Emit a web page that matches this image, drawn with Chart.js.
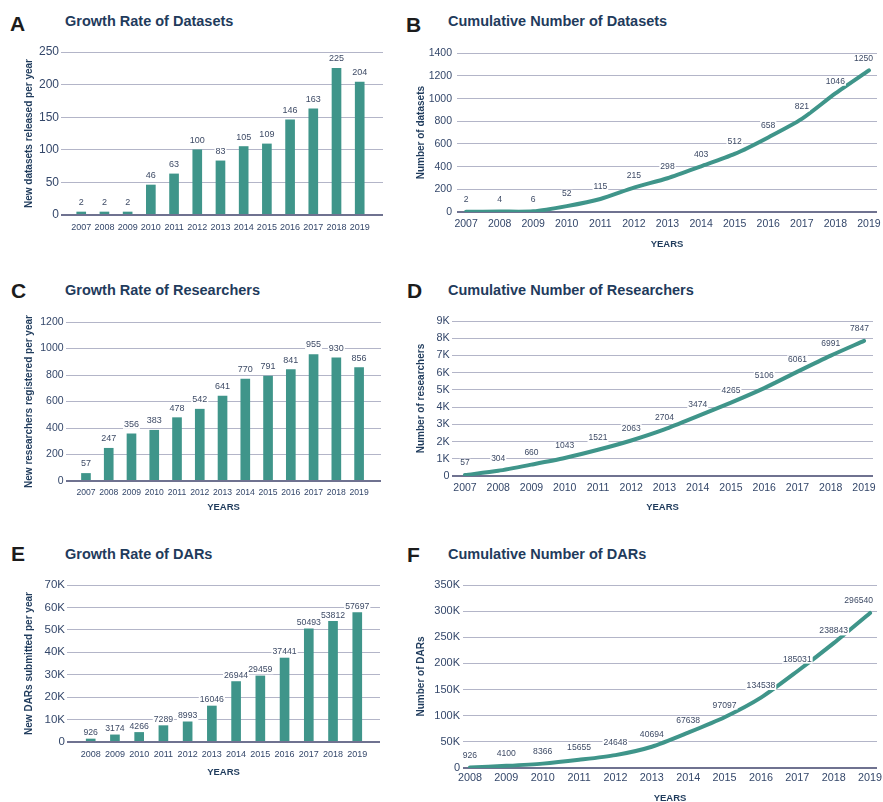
<!DOCTYPE html>
<html>
<head>
<meta charset="utf-8">
<script src="https://cdn.jsdelivr.net/npm/chart.js@4.4.1/dist/chart.umd.min.js"></script>
<style>
  html, body { margin: 0; padding: 0; background: #fff; width: 883px; height: 802px; overflow: hidden; position: relative;
               font-family: "Liberation Sans", Arial, sans-serif; }
  .letter { position: absolute; font-weight: bold; font-size: 21px; line-height: 21px; color: #1c1c1c; }
  .title { position: absolute; font-weight: bold; font-size: 14.5px; line-height: 14.5px; color: #1f3b5c; white-space: nowrap; }
  canvas { position: absolute; }
</style>
</head>
<body>
<div class="letter" style="left:10px;top:13px">A</div>
<div class="title" style="left:65px;top:14px">Growth Rate of Datasets</div>
<div class="letter" style="left:406px;top:14px">B</div>
<div class="title" style="left:448px;top:14px">Cumulative Number of Datasets</div>
<div class="letter" style="left:11px;top:280px">C</div>
<div class="title" style="left:65px;top:283px">Growth Rate of Researchers</div>
<div class="letter" style="left:407px;top:280px">D</div>
<div class="title" style="left:448px;top:283px">Cumulative Number of Researchers</div>
<div class="letter" style="left:11px;top:543px">E</div>
<div class="title" style="left:65px;top:547px">Growth Rate of DARs</div>
<div class="letter" style="left:407px;top:544px">F</div>
<div class="title" style="left:448px;top:547px">Cumulative Number of DARs</div>

<script>
// ---- data ----
const datasetYears = ['2007','2008','2009','2010','2011','2012','2013','2014','2015','2016','2017','2018','2019'];
const darYears = ['2008','2009','2010','2011','2012','2013','2014','2015','2016','2017','2018','2019'];

const newDatasets = [2, 2, 2, 46, 63, 100, 83, 105, 109, 146, 163, 225, 204];
const cumDatasets = [2, 4, 6, 52, 115, 215, 298, 403, 512, 658, 821, 1046, 1250];

const newResearchers = [57, 247, 356, 383, 478, 542, 641, 770, 791, 841, 955, 930, 856];
const cumResearchers = [57, 304, 660, 1043, 1521, 2063, 2704, 3474, 4265, 5106, 6061, 6991, 7847];

const newDARs = [926, 3174, 4266, 7289, 8993, 16046, 26944, 29459, 37441, 50493, 53812, 57697];
const cumDARs = [926, 4100, 8366, 15655, 24648, 40694, 67638, 97097, 134538, 185031, 238843, 296540];

// y-axis tick labels (bottom to top)
const ticksNewDatasets = ['0', '50', '100', '150', '200', '250'];
const ticksCumDatasets = ['0', '200', '400', '600', '800', '1000', '1200', '1400'];
const ticksNewResearchers = ['0', '200', '400', '600', '800', '1000', '1200'];
const ticksCumResearchers = ['0', '1K', '2K', '3K', '4K', '5K', '6K', '7K', '8K', '9K'];
const ticksNewDARs = ['0', '10K', '20K', '30K', '40K', '50K', '60K', '70K'];
const ticksCumDARs = ['0', '50K', '100K', '150K', '200K', '250K', '300K', '350K'];

// ---- styling ----
const TEAL = '#3f958a';
const GRID = '#b3b5c8';
const BASE = '#6f7290';
const TICK_COLOR = '#34476a';
const LABEL_COLOR = '#3e4b66';
const TITLE_COLOR = '#1f3b5c';
const FONT = '"Liberation Sans", Arial, sans-serif';

// value labels above bars / points, on a white backing, kept inside the plot
const valueLabels = {
  id: 'valueLabels',
  afterDatasetsDraw(chart, args, opts) {
    const ctx = chart.ctx;
    const area = chart.chartArea;
    const meta = chart.getDatasetMeta(0);
    const data = chart.data.datasets[0].data;
    ctx.save();
    ctx.font = opts.size + 'px ' + FONT;
    ctx.textAlign = 'center';
    ctx.textBaseline = 'middle';
    meta.data.forEach((el, i) => {
      const txt = String(data[i].y);
      const w = ctx.measureText(txt).width;
      const x = Math.min(el.x, area.right - 4 - w / 2);
      const y = el.y - opts.offset;
      ctx.fillStyle = '#fff';
      ctx.fillRect(x - w / 2 - 1, y - opts.size * 0.5, w + 2, opts.size);
      ctx.fillStyle = LABEL_COLOR;
      ctx.fillText(txt, x, y);
    });
    ctx.restore();
  }
};

// redraw the zero line on top of the bars
const baseline = {
  id: 'baseline',
  afterDatasetsDraw(chart, args, opts) {
    if (!opts.onTop) return;
    const {ctx, chartArea} = chart;
    const y = Math.round(chart.scales.y.getPixelForValue(0));
    ctx.save();
    ctx.strokeStyle = BASE;
    ctx.lineWidth = 2;
    ctx.beginPath();
    ctx.moveTo(chartArea.left, y);
    ctx.lineTo(chartArea.right, y);
    ctx.stroke();
    ctx.restore();
  }
};

const panels = [
  { kind: 'bar', labels: datasetYears, values: newDatasets, yTicks: ticksNewDatasets, yStep: 50,
    yTitle: 'New datasets released per year', xTitle: null,
    box: {left: 23, top: 42, right: 397, bottom: 240}, area: {l: 61, t: 52, r: 383, b: 215},
    xRange: [-0.338, 12.47], yFont: 12, xFont: 9, yPad: 2, xPad: 7, labelSize: 9, labelOffset: 9.5 },
  { kind: 'line', labels: datasetYears, values: cumDatasets, yTicks: ticksCumDatasets, yStep: 200,
    yTitle: 'Number of datasets', xTitle: 'YEARS',
    box: {left: 415, top: 42, right: 891, bottom: 250}, area: {l: 457, t: 52, r: 877, b: 212},
    xRange: [-0.27, 12.24], yFont: 10.5, xFont: 10.5, yPad: 5, xPad: 6, labelSize: 8.6, labelOffset: 12 },
  { kind: 'bar', labels: datasetYears, values: newResearchers, yTicks: ticksNewResearchers, yStep: 200,
    yTitle: 'New researchers registered per year', xTitle: 'YEARS',
    box: {left: 23, top: 312, right: 395, bottom: 513}, area: {l: 66, t: 322, r: 381, b: 481},
    xRange: [-0.345, 12.43], yFont: 10.5, xFont: 8.6, yPad: 2.4, xPad: 6, labelSize: 9, labelOffset: 9.5 },
  { kind: 'line', labels: datasetYears, values: cumResearchers, yTicks: ticksCumResearchers, yStep: 1000,
    yTitle: 'Number of researchers', xTitle: 'YEARS',
    box: {left: 415, top: 311, right: 887, bottom: 513}, area: {l: 452, t: 321, r: 873, b: 476},
    xRange: [-0.39, 12.27], yFont: 10.8, xFont: 10.5, yPad: 2.4, xPad: 6, labelSize: 8.5, labelOffset: 12 },
  { kind: 'bar', labels: darYears, values: newDARs, yTicks: ticksNewDARs, yStep: 10000,
    yTitle: 'New DARs submitted per year', xTitle: 'YEARS',
    box: {left: 23, top: 575, right: 394, bottom: 778}, area: {l: 67, t: 585, r: 380, b: 742},
    xRange: [-0.44, 11.4], yFont: 11.5, xFont: 9, yPad: 2, xPad: 7, labelSize: 8.7, labelOffset: 6 },
  { kind: 'line', labels: darYears, values: cumDARs, yTicks: ticksCumDARs, yStep: 50000,
    yTitle: 'Number of DARs', xTitle: 'YEARS',
    box: {left: 415, top: 575, right: 891, bottom: 804}, area: {l: 463, t: 585, r: 877, b: 768},
    xRange: [-0.19, 11.19], yFont: 11, xFont: 10.8, yPad: 3, xPad: 4, labelSize: 8.6, labelOffset: 12 }
];

panels.forEach(p => {
  const canvas = document.createElement('canvas');
  const w = p.box.right - p.box.left;
  const h = p.box.bottom - p.box.top;
  canvas.width = w;
  canvas.height = h;
  canvas.style.left = p.box.left + 'px';
  canvas.style.top = p.box.top + 'px';
  canvas.style.width = w + 'px';
  canvas.style.height = h + 'px';
  document.body.appendChild(canvas);

  const yWidth = p.area.l - p.box.left;
  const xHeight = p.box.bottom - p.area.b;
  const yMax = p.yStep * (p.yTicks.length - 1);
  const isBar = p.kind === 'bar';

  const points = p.values.map((v, i) => ({x: i, y: v}));

  const dataset = isBar ? {
    data: points,
    backgroundColor: TEAL,
    borderWidth: 0,
    barThickness: 9,
    minBarLength: 3
  } : {
    data: points,
    borderColor: TEAL,
    borderWidth: 4,
    borderCapStyle: 'round',
    borderJoinStyle: 'round',
    tension: 0.25,
    pointRadius: 0,
    fill: false
  };

  new Chart(canvas, {
    type: p.kind,
    data: { datasets: [dataset] },
    plugins: [valueLabels, baseline],
    options: {
      responsive: false,
      animation: false,
      devicePixelRatio: 1,
      layout: { padding: { left: 0, top: p.area.t - p.box.top, right: p.box.right - p.area.r, bottom: 0 } },
      plugins: {
        legend: { display: false },
        tooltip: { enabled: false },
        valueLabels: { size: p.labelSize, offset: p.labelOffset },
        baseline: { onTop: isBar }
      },
      scales: {
        x: {
          type: 'linear',
          min: p.xRange[0],
          max: p.xRange[1],
          afterBuildTicks: s => { s.ticks = p.labels.map((_, i) => ({value: i})); },
          afterFit: s => { s.height = xHeight; },
          grid: { display: false, drawTicks: false },
          border: { display: false },
          ticks: {
            autoSkip: false,
            maxRotation: 0,
            padding: p.xPad,
            color: TICK_COLOR,
            font: { family: FONT, size: p.xFont },
            callback: (v) => p.labels[Math.round(v)]
          },
          title: {
            display: !!p.xTitle,
            text: p.xTitle || '',
            color: TITLE_COLOR,
            padding: 0,
            font: { family: FONT, size: 9.5, weight: 'bold' }
          }
        },
        y: {
          min: 0,
          max: yMax,
          afterBuildTicks: s => { s.ticks = p.yTicks.map((_, i) => ({value: i * p.yStep})); },
          afterFit: s => { s.width = yWidth; },
          grid: {
            drawTicks: false,
            color: c => (c.tick && c.tick.value === 0) ? BASE : GRID,
            lineWidth: c => (c.tick && c.tick.value === 0) ? 2 : 1
          },
          border: { display: false },
          ticks: {
            padding: p.yPad,
            color: TICK_COLOR,
            font: { family: FONT, size: p.yFont },
            callback: (v, i) => p.yTicks[i]
          },
          title: {
            display: true,
            text: p.yTitle,
            color: TITLE_COLOR,
            padding: 0,
            font: { family: FONT, size: 10, weight: 'bold' }
          }
        }
      }
    }
  });
});
</script>
</body>
</html>
